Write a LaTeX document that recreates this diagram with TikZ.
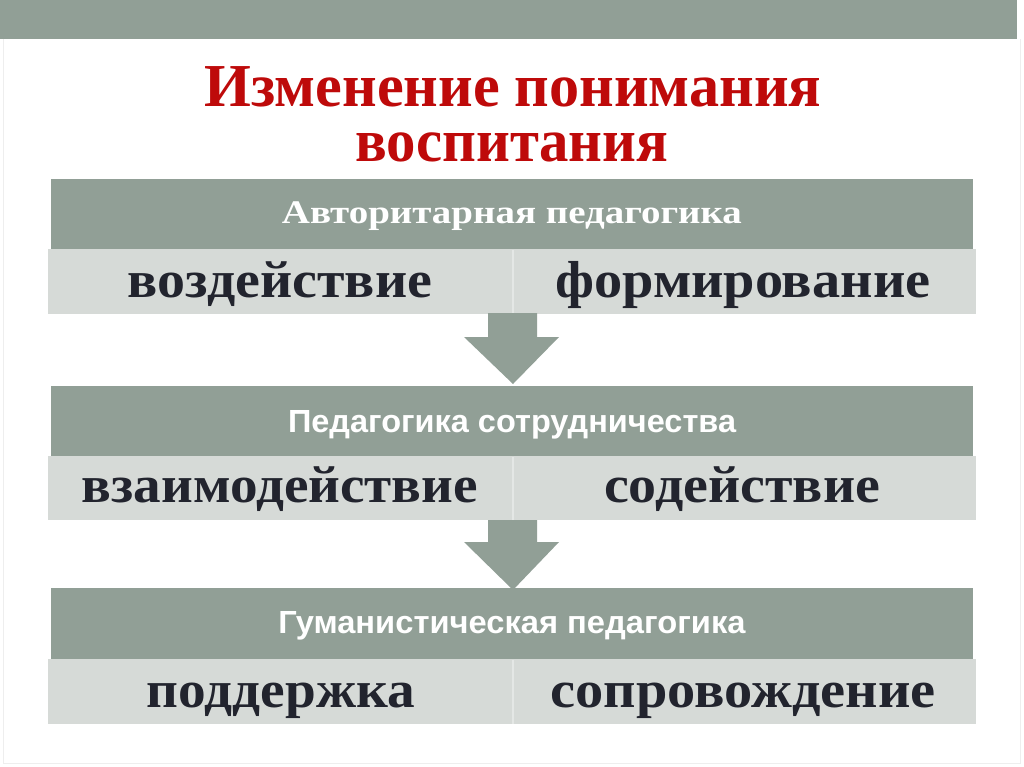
\documentclass[tikz,border=0pt]{standalone}
\usepackage{fontspec}
\usepackage{graphicx}
\setmainfont{Liberation Serif}
\newfontfamily\hsans{Liberation Sans}
\definecolor{barcol}{HTML}{919F96}
\definecolor{lightcol}{HTML}{D6DAD7}
\definecolor{divcol}{HTML}{E4E7E5}
\definecolor{txtcol}{HTML}{22242E}
\definecolor{titlecol}{HTML}{BE0A0A}
\definecolor{framecol}{HTML}{EEEEEE}
\tikzset{
  hdrbox/.style={fill=barcol, draw=none},
  cellbox/.style={fill=lightcol, draw=none},
  celltxt/.style={anchor=base, inner sep=0pt, text=txtcol, font=\bfseries\fontsize{52}{52}\selectfont},
  hdrtxt/.style={anchor=base, inner sep=0pt, text=white},
  titletxt/.style={anchor=base, inner sep=0pt, text=titlecol, font=\bfseries\fontsize{61}{61}\selectfont},
  downarrow/.style={fill=barcol, draw=none}
}
\newcommand{\fitw}[2]{\resizebox{#1pt}{\height}{#2}}
\begin{document}
\begin{tikzpicture}[x=1pt,y=-1pt]
\useasboundingbox (0,0) rectangle (1024,767);
\fill[white] (0,0) rectangle (1024,767);
\draw[framecol, line width=1pt] (3,39) -- (3,763) -- (1020,763) -- (1020,39);
% top bar
\fill[barcol] (0,0) rectangle (1017,39);
% title
\node[titletxt] (t1) at (513,107) {\fitw{617}{Изменение понимания}};
\node[titletxt] (t2) at (512,162) {\fitw{313}{воспитания}};
% block 1
\fill[hdrbox] (51,179) rectangle (973,249);
\fill[cellbox] (48,249) rectangle (976,314);
\draw[divcol, line width=1.2pt] (513,250) -- (513,314);
\node[hdrtxt, font=\bfseries\fontsize{33}{33}\selectfont] (h1) at (512,224) {\fitw{460}{Авторитарная педагогика}};
\node[celltxt] (c11) at (280,297) {\fitw{304}{воздействие}};
\node[celltxt] (c12) at (743,297) {\fitw{375}{формирование}};
% arrow 1
\fill[downarrow] (488,313) -- (537,313) -- (537,337) -- (559,337) -- (513,384) -- (464,337) -- (488,337) -- cycle;
% block 2
\fill[hdrbox] (51,386) rectangle (973,456);
\fill[cellbox] (48,456) rectangle (976,520);
\draw[divcol, line width=1.2pt] (513,457) -- (513,520);
\node[hdrtxt, font=\hsans\bfseries\fontsize{32}{32}\selectfont] (h2) at (512,432) {\fitw{448}{Педагогика сотрудничества}};
\node[celltxt] (c21) at (280,502) {\fitw{396}{взаимодействие}};
\node[celltxt] (c22) at (742,502) {\fitw{276}{содействие}};
% arrow 2
\fill[downarrow] (488,520) -- (537,520) -- (537,542) -- (559,542) -- (513,590) -- (464,542) -- (488,542) -- cycle;
% block 3
\fill[hdrbox] (51,588) rectangle (973,659);
\fill[cellbox] (48,659) rectangle (976,724);
\draw[divcol, line width=1.2pt] (513,660) -- (513,724);
\node[hdrtxt, font=\hsans\bfseries\fontsize{32}{32}\selectfont] (h3) at (512,633) {\fitw{467}{Гуманистическая педагогика}};
\node[celltxt] (c31) at (281,707) {\fitw{268}{поддержка}};
\node[celltxt] (c32) at (743,707) {\fitw{385}{сопровождение}};
\end{tikzpicture}
\end{document}
